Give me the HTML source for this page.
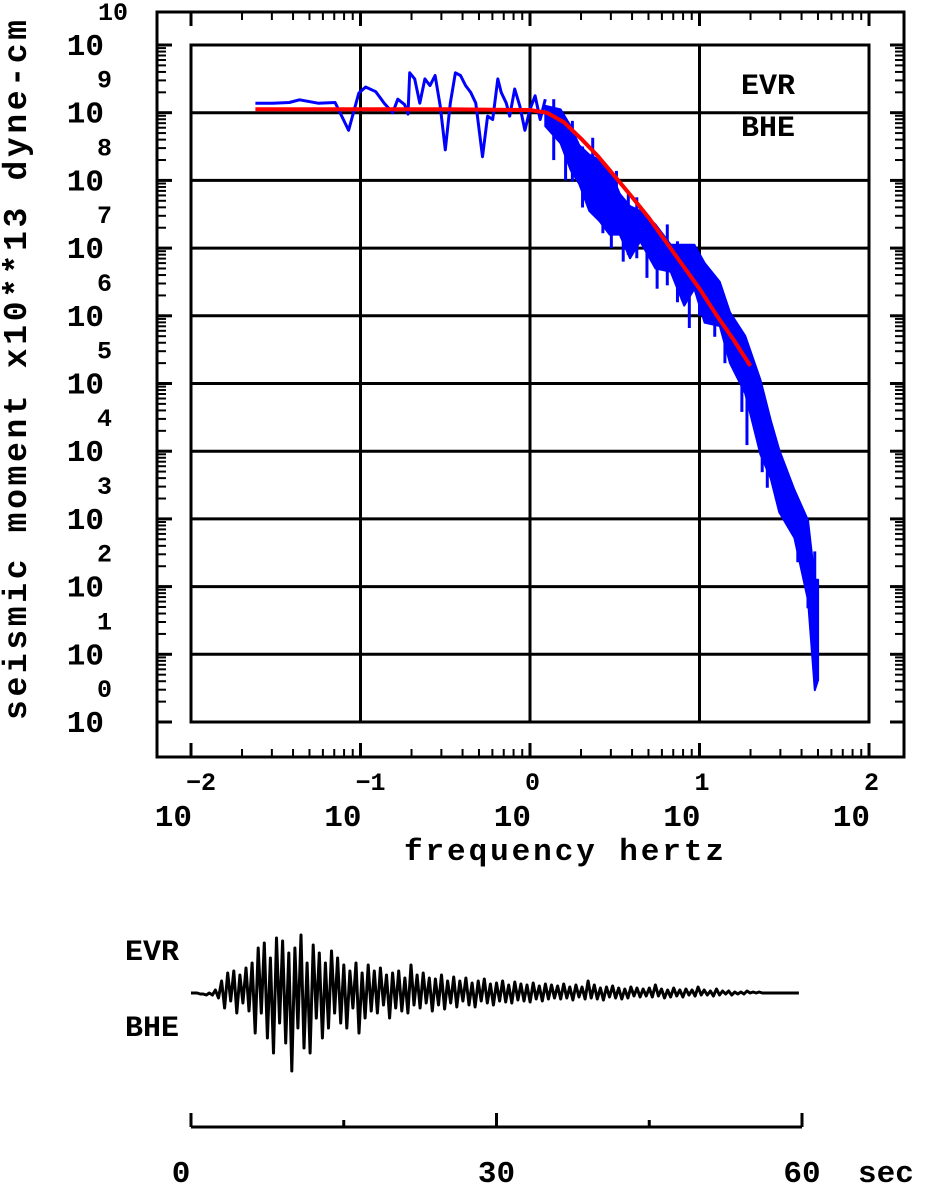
<!DOCTYPE html>
<html><head><meta charset="utf-8"><title>Source spectrum EVR BHE</title>
<style>
html,body{margin:0;padding:0;background:#fff;}
svg{display:block;}
text{font-family:"Liberation Mono","DejaVu Sans Mono",monospace;font-weight:bold;fill:#000;}
</style></head>
<body>
<svg id="chart" width="928" height="1184" viewBox="0 0 928 1184" xmlns="http://www.w3.org/2000/svg">
  <rect x="0" y="0" width="928" height="1184" fill="#fff"/>
  <g id="axes"></g>
  <g id="grid"></g>
  <g id="series"></g>
  <g id="labels">
    <text x="741" y="94" font-size="30">EVR</text>
    <text x="741" y="136" font-size="30">BHE</text>
    <text x="404" y="860" font-size="31" textLength="320" lengthAdjust="spacing">frequency hertz</text>
    <text transform="translate(26,720) rotate(-90)" x="0" y="0" font-size="33" textLength="700" lengthAdjust="spacing">seismic moment x10**13 dyne-cm</text>
    <text x="125" y="960" font-size="30">EVR</text>
    <text x="125" y="1036" font-size="30">BHE</text>
    <text x="858" y="1182" font-size="31">sec</text>
  </g>
  <g id="seis"></g>
</svg>
<script>
// ---- spectrum data (log10 frequency, log10 moment) ----
const lowLogF = [-1.62,-1.52,-1.42,-1.36,-1.25,-1.15,-1.07,-1.01,-0.97,-0.91,-0.86,-0.81,-0.78,-0.74,-0.72,-0.71,-0.68,-0.65,-0.62,-0.59,-0.56,-0.53,-0.50,-0.47,-0.44,-0.41,-0.38,-0.35,-0.32,-0.28,-0.25,-0.22,-0.19,-0.17,-0.14,-0.12,-0.09,-0.06,-0.03,0.00,0.03,0.06,0.09];
const lowVal  = [9.14,9.14,9.15,9.19,9.14,9.15,8.74,9.29,9.38,9.31,9.14,9.00,9.20,9.12,8.98,9.59,9.50,9.14,9.50,9.40,9.55,9.10,8.45,9.14,9.59,9.55,9.40,9.30,9.14,8.35,8.95,8.90,9.50,9.30,9.14,8.95,9.35,9.10,8.74,9.05,9.25,8.90,9.20];
const hiLogF = [0.09,0.18,0.24,0.29,0.35,0.41,0.47,0.53,0.59,0.65,0.74,0.83,0.91,0.97,1.03,1.12,1.18,1.27,1.36,1.42,1.47,1.56,1.64,1.68,1.70];
const hiVal  = [9.10,9.05,8.80,8.52,8.38,8.30,8.15,7.80,7.62,7.55,7.35,7.05,7.05,7.05,6.78,6.50,6.05,5.70,5.05,4.46,4.02,3.43,2.98,2.10,2.10];
const loVal  = [8.80,8.55,8.15,7.95,7.55,7.40,7.20,7.20,6.85,7.10,6.70,6.65,6.15,6.40,5.90,5.85,5.30,4.85,3.95,3.60,3.10,2.72,1.80,0.47,0.62];
const spikeLogF = [0.14,0.21,0.25,0.31,0.37,0.43,0.48,0.51,0.55,0.58,0.63,0.69,0.75,0.81,0.87,0.94,1.00,1.09,1.15,1.25,1.28,1.37,1.40,1.58,1.64,1.68];
const spikeVal  = [8.30,8.00,7.98,7.60,7.73,7.22,7.00,7.24,6.80,6.90,6.85,6.56,6.40,6.45,6.20,5.82,6.00,5.69,5.30,4.58,4.09,3.69,3.46,2.36,1.68,1.62];
const modelLogF = [-1.62,-0.5,0.0,0.1,0.2,0.3,0.4,0.5,0.6,0.7,0.8,0.9,1.0,1.1,1.2,1.3];
const modelVal  = [9.05,9.05,9.04,9.00,8.86,8.62,8.36,8.06,7.76,7.45,7.10,6.75,6.40,6.01,5.65,5.26];
const xTickExp = [-2,-1,0,1,2];
const yTickExp = [0,1,2,3,4,5,6,7,8,9,10];
// ---- seismogram (dt = 0.3 s, amplitude in display units) ----
const seisDt = 0.3;
const seisVal = [0,0,0,-1,-1,-2,0,-2,3,-5,
12,-15,20,-8,22,-20,18,-10,25,-18,
30,-40,45,-20,50,-45,35,-60,55,-30,
52,-50,40,-78,45,-35,58,-55,30,-60,
48,-25,40,-45,30,-35,42,-20,35,-30,
28,-35,22,-15,30,-40,20,-25,28,-18,
22,-20,25,-12,18,-25,20,-15,22,-18,
15,-20,28,-12,18,-15,20,-10,15,-18,
14,-12,18,-16,12,-10,16,-14,12,-8,
15,-12,10,-14,12,-8,14,-10,9,-12,
10,-8,12,-9,8,-10,11,-7,9,-8,
8,-9,10,-6,7,-8,9,-6,8,-5,
7,-6,9,-5,6,-7,8,-4,6,-6,
12,-5,8,-6,5,-7,6,-4,7,-5,
5,-6,4,-5,6,-3,5,-4,4,-3,
5,-4,8,-3,4,-5,3,-4,5,-3,
3,-4,4,-2,3,-3,6,-2,3,-2,
2,-3,4,-2,2,-1,2,-2,1,-1,
1,-1,2,0,1,0,1,0,0,0,
0,0,0,0,0,0,0,0,0,0];
const timeTicks = [0,15,30,45,60];
const timeLabels = [0,30,60];

const NS='http://www.w3.org/2000/svg';
function mk(tag, attrs, parent){const e=document.createElementNS(NS,tag);for(const k in attrs)e.setAttribute(k,attrs[k]);parent.appendChild(e);return e;}
const X0=191,X1=869,Y0=722,Y1=45;
const xs=lf=>X0+(lf+2)*(X1-X0)/4;
const ys=lv=>Y0-lv*(Y0-Y1)/10;

const axes=document.getElementById('axes');
const grid=document.getElementById('grid');
const series=document.getElementById('series');
const labels=document.getElementById('labels');

let r=mk('rect',{x:157,y:12,width:747,height:745,fill:'none',stroke:'#000','stroke-width':3},axes);


r=mk('rect',{x:X0,y:Y1,width:X1-X0,height:Y0-Y1,fill:'none',stroke:'#000','stroke-width':3},axes);



xTickExp.forEach((e,i)=>{
  const x=xs(e);
  let t=mk('line',{x1:x,y1:757,x2:x,y2:743,stroke:'#000','stroke-width':3},axes);
  
  
  t=mk('line',{x1:x,y1:12,x2:x,y2:26,stroke:'#000','stroke-width':3},axes);
  
  
  if(e>-2&&e<2){
    const g=mk('line',{x1:x,y1:Y1,x2:x,y2:Y0,stroke:'#000','stroke-width':3},grid);
    
    
  }
  if(i<xTickExp.length-1){
    for(let k=2;k<=9;k++){
      const xm=xs(e+Math.log10(k));
      let m=mk('line',{x1:xm,y1:757,x2:xm,y2:749,stroke:'#000','stroke-width':2},axes);
      
      
      m=mk('line',{x1:xm,y1:12,x2:xm,y2:20,stroke:'#000','stroke-width':2},axes);
      
      
    }
  }
  let b=mk('text',{x:x+1,y:826,'font-size':31,'text-anchor':'end'},labels);
  b.textContent='10';
  
  
  let ex=mk('text',{x:x-5,y:790,'font-size':25},labels);
  ex.textContent=(e<0?'\u2212':'')+Math.abs(e);
  
  
});
yTickExp.forEach((e,i)=>{
  const y=ys(e);
  let t=mk('line',{x1:157,y1:y,x2:172,y2:y,stroke:'#000','stroke-width':3},axes);
  
  
  t=mk('line',{x1:904,y1:y,x2:890,y2:y,stroke:'#000','stroke-width':3},axes);
  
  
  if(e>0&&e<10){
    const g=mk('line',{x1:X0,y1:y,x2:X1,y2:y,stroke:'#000','stroke-width':3},grid);
    
    
  }
  if(i<yTickExp.length-1){
    for(let k=2;k<=9;k++){
      const ym=ys(e+Math.log10(k));
      let m=mk('line',{x1:157,y1:ym,x2:166,y2:ym,stroke:'#000','stroke-width':2},axes);
      
      
      m=mk('line',{x1:904,y1:ym,x2:895,y2:ym,stroke:'#000','stroke-width':2},axes);
      
      
    }
  }
  let b=mk('text',{x:104,y:y+10,'font-size':31,'text-anchor':'end'},labels);
  b.textContent='10';
  
  
  let ex=mk('text',{x:e>=10?98:97,y:y-25,'font-size':25},labels);
  ex.textContent=String(e);
  
  
});

let d=lowLogF.map((f,i)=>(i?'L':'M')+xs(f).toFixed(1)+' '+ys(lowVal[i]).toFixed(1)).join(' ');
let p=mk('path',{d:d,fill:'none',stroke:'#0000ff','stroke-width':3,'stroke-linejoin':'round'},series);


d=hiLogF.map((f,i)=>(i?'L':'M')+xs(f).toFixed(1)+' '+ys(hiVal[i]).toFixed(1)).join(' ');
for(let i=hiLogF.length-1;i>=0;i--) d+=' L'+xs(hiLogF[i]).toFixed(1)+' '+ys(loVal[i]).toFixed(1);
d+=' Z';
p=mk('path',{d:d,fill:'#0000ff',stroke:'#0000ff','stroke-width':2,'stroke-linejoin':'round'},series);


spikeLogF.forEach((f,i)=>{
  const x=xs(f);
  const s=mk('line',{x1:x,y1:ys(spikeVal[i]),x2:x,y2:ys(spikeVal[i]+0.9),stroke:'#0000ff','stroke-width':3},series);
  
  
});
d=modelLogF.map((f,i)=>(i?'L':'M')+xs(f).toFixed(1)+' '+ys(modelVal[i]).toFixed(1)).join(' ');
p=mk('path',{d:d,fill:'none',stroke:'#ff0000','stroke-width':4,'stroke-linejoin':'round'},series);



const seis=document.getElementById('seis');
const T0=191,T1=802,base=993;
const ts=t=>T0+t*(T1-T0)/60;
d=seisVal.map((v,i)=>(i?'L':'M')+ts(i*seisDt).toFixed(1)+' '+(base-v).toFixed(1)).join(' ');
p=mk('path',{d:d,fill:'none',stroke:'#000','stroke-width':3,'stroke-linejoin':'round'},seis);


let l=mk('line',{x1:T0,y1:1127,x2:T1,y2:1127,stroke:'#000','stroke-width':3},seis);


timeTicks.forEach(t=>{
  const x=ts(t);const major=t%30===0;
  const tk=mk('line',{x1:x,y1:1127,x2:x,y2:major?1113:1120,stroke:'#000','stroke-width':3},seis);
  
  
});
timeLabels.forEach(t=>{
  const tx=mk('text',{x:t===0?ts(t)-10:ts(t),y:1182,'font-size':31,'text-anchor':'middle'},seis);
  tx.textContent=String(t);
  
  
});
</script>
</body></html>
